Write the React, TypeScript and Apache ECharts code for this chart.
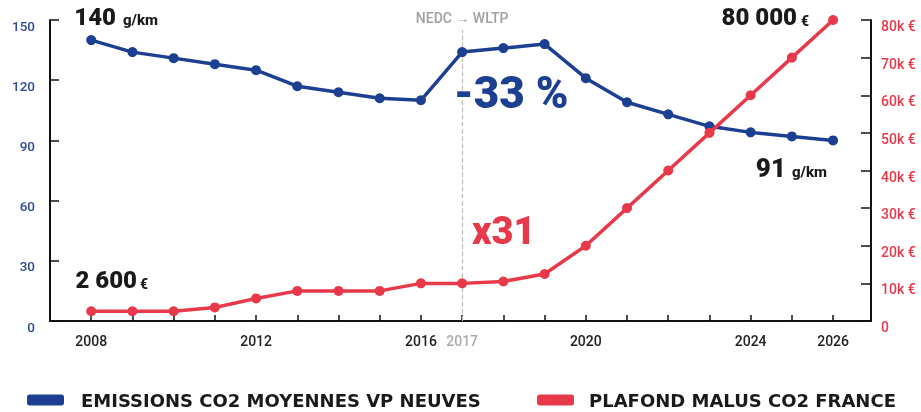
import React, { useEffect, useRef } from 'react';
import * as echarts from 'echarts';

const years = [2008, 2009, 2010, 2011, 2012, 2013, 2014, 2015, 2016, 2017, 2018, 2019, 2020, 2021, 2022, 2023, 2024, 2025, 2026];
const emissions = [140, 134, 131, 128, 125, 117, 114, 111, 110, 134, 136, 138, 121, 109, 103, 97, 94, 92, 90];
const malus = [2600, 2600, 2600, 3600, 6000, 8000, 8000, 8000, 10000, 10000, 10500, 12500, 20000, 30000, 40000, 50000, 60000, 70000, 80000];
const xLabelYears = [2008, 2012, 2016, 2017, 2020, 2024, 2026];
const leftTicks = { min: 0, max: 150, interval: 30 };
const rightTicks = { min: 0, max: 80000, interval: 10000 };
const seriesNames = ['EMISSIONS CO2 MOYENNES VP NEUVES', 'PLAFOND MALUS CO2 FRANCE'];

const BLUE = '#1c3f91';
const RED = '#e8394a';
const DARK = '#1a1a1a';
const BIG = 'Roboto, "Open Sans", sans-serif';

export default function App() {
  const ref = useRef<HTMLDivElement>(null);
  useEffect(() => {
    const chart = echarts.init(ref.current!, null, { renderer: 'svg' });
    const txt = (text: string, x: number, y: number, size: number, fill: string, align = 'left', weight: any = 900) => ({
      type: 'text',
      x,
      y,
      z: 100,
      style: { text, fontSize: size, fontWeight: weight, fontFamily: BIG, fill, align, verticalAlign: 'middle' },
    });
    chart.setOption({
      animation: false,
      grid: { left: 50, right: 50, top: 20, bottom: 91 },
      legend: [
        {
          data: [seriesNames[0]], left: 27, top: 391, padding: 0, icon: 'roundRect', itemWidth: 37, itemHeight: 11,
          textStyle: { fontSize: 18, fontWeight: 'bold', fontFamily: '"DejaVu Sans", sans-serif', color: DARK, padding: [0, 0, 0, 12] },
        },
        {
          data: [seriesNames[1]], left: 537, top: 391, padding: 0, icon: 'roundRect', itemWidth: 37, itemHeight: 11,
          textStyle: { fontSize: 18, fontWeight: 'bold', fontFamily: '"DejaVu Sans", sans-serif', color: DARK, padding: [0, 0, 0, 10] },
        },
      ],
      xAxis: {
        type: 'value', min: 2007, max: 2026.92, interval: 1,
        axisLine: { show: true, lineStyle: { color: '#111', width: 2 } },
        axisTick: { show: true, inside: true, length: 6, lineStyle: { color: '#111', width: 1.5 } },
        splitLine: { show: false },
        axisLabel: {
          margin: 13, fontSize: 14, fontFamily: 'Roboto', fontWeight: 500, color: '#222',
          formatter: (v: number) => (xLabelYears.includes(v) ? (v === 2017 ? '{g|2017}' : String(v)) : ''),
          rich: { g: { color: '#ababab', fontSize: 14, fontFamily: 'Roboto', fontWeight: 500 } },
        },
      },
      yAxis: [
        {
          type: 'value', ...leftTicks, position: 'left',
          axisLine: { show: true, lineStyle: { color: '#111', width: 2 } },
          axisTick: { show: true, inside: true, length: 9, lineStyle: { color: '#111', width: 1.5 } },
          splitLine: { show: false },
          axisLabel: { margin: 15, color: '#2a4a9a', fontSize: 13.5, fontFamily: 'Roboto', fontWeight: 500, verticalAlign: 'top', lineHeight: 11 },
        },
        {
          type: 'value', ...rightTicks, position: 'right',
          axisLine: { show: true, lineStyle: { color: '#111', width: 2 } },
          axisTick: { show: true, inside: true, length: 10, lineStyle: { color: '#111', width: 1.5 } },
          splitLine: { show: false },
          axisLabel: {
            margin: 10, color: RED, fontSize: 14, fontFamily: 'Roboto', fontWeight: 500, verticalAlign: 'top', lineHeight: 12,
            formatter: (v: number) => (v === 0 ? '0' : v / 1000 + 'k €'),
          },
        },
      ],
      series: [
        {
          name: seriesNames[0], type: 'line', yAxisIndex: 0, z: 2,
          data: years.map((y, i) => [y, emissions[i]]),
          symbol: 'circle', symbolSize: 10, showAllSymbol: true,
          lineStyle: { width: 3.5, color: BLUE }, itemStyle: { color: BLUE },
          markLine: {
            silent: true, symbol: 'none', z: 1,
            data: [[{ coord: [2017, 0] }, { coord: [2017, 145] }]],
            lineStyle: { color: '#bdbdbd', type: 'dashed', width: 1.2 },
            label: { show: true, position: 'end', formatter: 'NEDC → WLTP', color: '#a0a0a0', fontSize: 14, fontFamily: 'Roboto', fontWeight: 500, distance: 5 },
          },
        },
        {
          name: seriesNames[1], type: 'line', yAxisIndex: 1, z: 3,
          data: years.map((y, i) => [y, malus[i]]),
          symbol: 'circle', symbolSize: 10, showAllSymbol: true,
          lineStyle: { width: 3.5, color: RED }, itemStyle: { color: RED },
        },
      ],
      graphic: [
        txt('140', 116, 17, 24, DARK, 'right'),
        txt('g/km', 123, 20, 15, DARK, 'left', 800),
        txt('80 000', 797, 17, 24, DARK, 'right'),
        txt('€', 801, 20.5, 14, DARK, 'left', 800),
        txt('91', 786, 167.5, 26, DARK, 'right'),
        txt('g/km', 792, 172, 15, DARK, 'left', 800),
        txt('2 600', 137, 280, 24, DARK, 'right'),
        txt('€', 140, 283.5, 14, DARK, 'left', 800),
        txt('-33 %', 454, 93, 44, BLUE),
        txt('x31', 472, 231, 38, RED),
      ],
    });
    return () => chart.dispose();
  }, []);
  return <div ref={ref} style={{ position: 'fixed', left: 0, top: 0, width: 921, height: 412 }} />;
}
